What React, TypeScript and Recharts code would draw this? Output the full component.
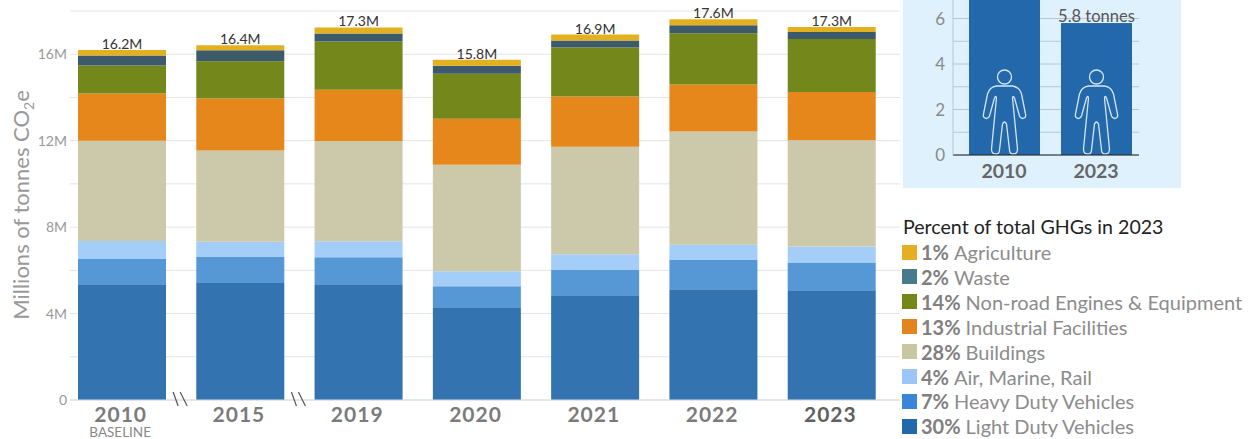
import React from 'react';
import { BarChart, Bar, XAxis, YAxis, CartesianGrid, LabelList } from 'recharts';

const years = ['2010', '2015', '2019', '2020', '2021', '2022', '2023'];
const lightDuty = [5.36, 5.41, 5.36, 4.29, 4.85, 5.13, 5.08];
const heavyDuty = [1.16, 1.21, 1.25, 0.97, 1.16, 1.35, 1.28];
const airMarineRail = [0.84, 0.7, 0.74, 0.7, 0.74, 0.7, 0.74];
const buildings = [4.64, 4.22, 4.64, 4.92, 4.97, 5.24, 4.92];
const industrial = [2.18, 2.41, 2.37, 2.13, 2.32, 2.18, 2.23];
const nonRoad = [1.3, 1.72, 2.23, 2.09, 2.27, 2.37, 2.46];
const waste = [0.46, 0.51, 0.37, 0.37, 0.32, 0.37, 0.32];
const agriculture = [0.26, 0.23, 0.28, 0.28, 0.28, 0.28, 0.23];
const totals = ['16.2M', '16.4M', '17.3M', '15.8M', '16.9M', '17.6M', '17.3M'];
const yTicks = [0, 2, 4, 6, 8, 10, 12, 14, 16, 18];

// bottom to top, same order as the stack
const series = [
  { key: 'lightDuty', name: 'Light Duty Vehicles', pct: '30%', values: lightDuty, color: '#3273b0', swatch: '#2468ac' },
  { key: 'heavyDuty', name: 'Heavy Duty Vehicles', pct: '7%', values: heavyDuty, color: '#5697d6', swatch: '#3a85d8' },
  { key: 'airMarineRail', name: 'Air, Marine, Rail', pct: '4%', values: airMarineRail, color: '#a4cdf8', swatch: '#9cc6f8' },
  { key: 'buildings', name: 'Buildings', pct: '28%', values: buildings, color: '#cbc9aa', swatch: '#c9c6a2' },
  { key: 'industrial', name: 'Industrial Facilities', pct: '13%', values: industrial, color: '#e5871a', swatch: '#e48420' },
  { key: 'nonRoad', name: 'Non-road Engines & Equipment', pct: '14%', values: nonRoad, color: '#74871a', swatch: '#76871a' },
  { key: 'waste', name: 'Waste', pct: '2%', values: waste, color: '#3c5a6a', swatch: '#477a8a' },
  { key: 'agriculture', name: 'Agriculture', pct: '1%', values: agriculture, color: '#e3b020', swatch: '#e6ae24' },
];

const data = years.map((year, i) => {
  const row: any = { year, total: totals[i] };
  series.forEach((s) => { row[s.key] = s.values[i]; });
  return row;
});

const perPersonYears = ['2010', '2023'];
const perPersonValues = [7.6, 5.8];
const perPersonLabels = ['', '5.8 tonnes'];
const perPersonTicks = [0, 1, 2, 3, 4, 5, 6, 7, 8];
const perPersonData = perPersonYears.map((year, i) => ({ year, tonnes: perPersonValues[i], label: perPersonLabels[i] }));

const FONT = 'Lato, "Open Sans", sans-serif';
const breakAfter = ['2010', '2015'];

const YearTick = ({ x, y, payload }: any) => (
  <g>
    <text x={x - 1.5} y={y + 14} textAnchor="middle" fontFamily={FONT} fontSize={21} fontWeight={700} letterSpacing={1}
      fill={payload.value === '2023' ? '#5f5f5f' : '#7b7b7b'}>
      {payload.value}
    </text>
    {payload.value === '2010' && (
      <text x={x - 2} y={y + 29} textAnchor="middle" fontFamily={FONT} fontSize={13.5} fill="#888">BASELINE</text>
    )}
    {breakAfter.includes(payload.value) && (
      <g stroke="#555" strokeWidth={1.2}>
        <line x1={x + 51} y1={y - 16} x2={x + 56} y2={y - 2} />
        <line x1={x + 58} y1={y - 16} x2={x + 65} y2={y - 2} />
      </g>
    )}
  </g>
);

const YLabel = () => (
  <text transform="translate(29,205) rotate(-90)" textAnchor="middle" fontFamily={FONT} fontSize={22} fill="#999">
    Millions of tonnes CO<tspan fontSize={14} dy={5}>2</tspan><tspan dy={-5}>e</tspan>
  </text>
);

const GhgLegend = () => (
  <div style={{ fontFamily: FONT, position: 'absolute', left: 902, top: 215, width: 350, height: 224 }}>
    <div style={{ fontSize: 19.6, color: '#222', position: 'absolute', left: 1, top: 0, whiteSpace: 'nowrap' }}>
      Percent of total GHGs in 2023
    </div>
    {[...series].reverse().map((s, i) => (
      <div key={s.key} style={{ position: 'absolute', left: 0, top: 26 + i * 24.9, display: 'flex', alignItems: 'center', whiteSpace: 'nowrap', fontSize: 20, color: '#8c8c8c', lineHeight: '22px' }}>
        <span style={{ width: 15, height: 15, background: s.swatch, marginRight: 4, display: 'inline-block' }} />
        <b style={{ marginRight: 5, color: '#808080' }}>{s.pct}</b>{s.name}
      </div>
    ))}
  </div>
);

// bar with the outline of a person standing on the baseline
const PersonBar = ({ x, y, width, height, fill }: any) => {
  const cx = x + width / 2;
  const base = y + height;
  const outline = 'M0 -69 L8 -69 Q15 -68 17 -61 L21 -41 Q22 -37 18 -36.5 Q16 -36.5 15 -39 L10 -57 Q8.5 -60 8 -57 L13 -6 Q13 -1 9 -1 Q5 -1 5 -5 L2 -31 Q0 -35 -2 -31 L-5 -5 Q-5 -1 -9 -1 Q-13 -1 -13 -6 L-8 -57 Q-8.5 -60 -10 -57 L-15 -39 Q-16 -36.5 -18 -36.5 Q-22 -37 -21 -41 L-17 -61 Q-15 -68 -8 -69 Z';
  return (
    <g>
      <rect x={x} y={y} width={width} height={height} fill={fill} />
      <g transform={`translate(${cx},${base})`} fill="none" stroke="#d5e6f3" strokeWidth={1.3}>
        <circle cx={0} cy={-78} r={7} />
        <path d={outline} />
      </g>
    </g>
  );
};

export default function App() {
  return (
    <div style={{ position: 'absolute', left: 0, top: 0, width: 1254, height: 439, overflow: 'hidden', background: '#fff' }}>
      <BarChart width={1254} height={439} data={data} barSize={88} margin={{ top: 11, right: 354, bottom: 0, left: 0 }}>
        <CartesianGrid vertical={false} stroke="#e4e4e6" />
        <XAxis dataKey="year" height={39} tick={<YearTick />} tickLine={false} axisLine={{ stroke: '#dcdcdc' }}
          interval={0} padding={{ left: -7, right: 9 }} />
        <YAxis width={70} domain={[0, 18]} ticks={yTicks} interval={0} tickLine={false} axisLine={false} tickMargin={-3}
          tick={{ fontFamily: FONT, fontSize: 14, fill: '#999' }}
          tickFormatter={(v: number) => (v === 0 ? '0' : v % 4 === 0 && v < 18 ? `${v}M` : '')}
          label={<YLabel />} />
        {series.map((s) => (
          <Bar key={s.key} dataKey={s.key} stackId="ghg" fill={s.color} isAnimationActive={false}>
            {s.key === 'agriculture' && (
              <LabelList dataKey="total" position="top" offset={1} fontFamily={FONT} fontSize={14} fill="#333" />
            )}
          </Bar>
        ))}
      </BarChart>
      <GhgLegend />

      <div style={{ position: 'absolute', left: 903, top: 0, width: 278, height: 188, overflow: 'hidden', background: '#dff1fd' }}>
        <div style={{ position: 'absolute', left: 0, top: -40 }}>
          <BarChart width={278} height={228} data={perPersonData} barSize={71} margin={{ top: 13, right: 42, bottom: 0, left: 0 }}>
            <CartesianGrid vertical={false} stroke="#b9c6d2" />
            <XAxis dataKey="year" height={33} tickLine={false} axisLine={{ stroke: '#222' }} interval={0}
              padding={{ left: 5, right: -3 }} tickMargin={3}
              tick={{ fontFamily: FONT, fontSize: 19.5, fontWeight: 700, fill: '#666' }} />
            <YAxis width={50} domain={[0, 8]} ticks={perPersonTicks} interval={0} tickLine={false} axisLine={{ stroke: '#b9c6d2' }}
              tickMargin={2} tick={{ fontFamily: FONT, fontSize: 17, fill: '#8a8a8a' }}
              tickFormatter={(v: number) => (v % 2 === 0 && v < 8 ? String(v) : '')} />
            <Bar dataKey="tonnes" fill="#2268ab" isAnimationActive={false} shape={<PersonBar />}>
              <LabelList dataKey="label" position="top" offset={1} fontFamily={FONT} fontSize={16.5} fill="#555" />
            </Bar>
          </BarChart>
        </div>
      </div>
    </div>
  );
}
